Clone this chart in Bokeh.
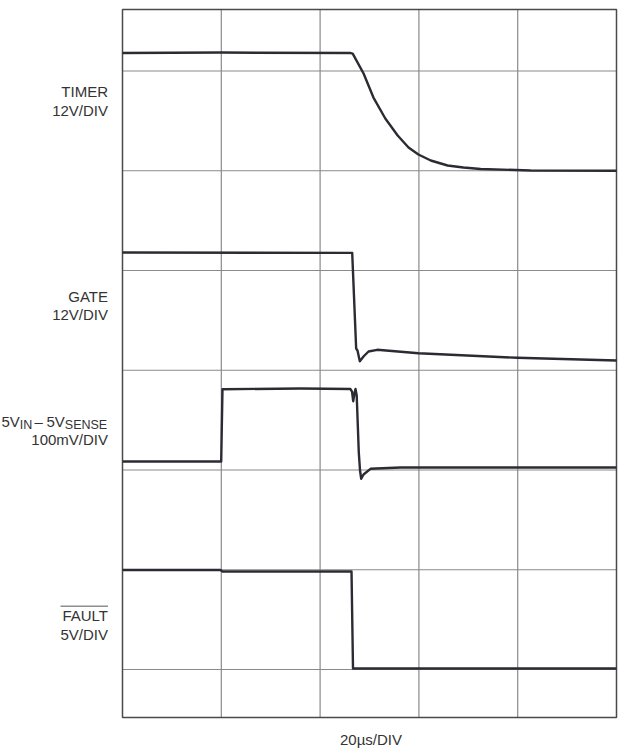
from bokeh.core.properties import value
from bokeh.embed import file_html
from bokeh.models import Range1d
from bokeh.plotting import figure
from bokeh.resources import INLINE

# time in us (20us/DIV), traces in screen divisions
timer_t = [0, 20, 46.2, 46.6, 48.8, 50.8, 53.2, 55.7, 57.9, 59.9, 62.4, 65.8, 69.0, 72.5, 82.6, 100]
timer_y = [6.18, 6.185, 6.18, 6.175, 5.975, 5.734, 5.524, 5.353, 5.233, 5.163, 5.103, 5.053, 5.033, 5.018, 5.003, 5.0]

gate_t = [0, 46.15, 46.5, 47.3, 47.57, 48.04, 48.79, 49.8, 51.56, 59.92, 79.9, 100]
gate_y = [4.18, 4.177, 4.175, 3.218, 3.198, 3.091, 3.138, 3.188, 3.205, 3.171, 3.125, 3.098]

sense_t = [0, 19.98, 20.24, 36.0, 46.15, 46.46, 46.7, 46.96, 47.17, 47.41, 47.67, 47.83, 48.08, 48.32, 48.79, 50.2, 56.3, 100]
sense_y = [2.085, 2.085, 2.81, 2.817, 2.812, 2.787, 2.69, 2.767, 2.812, 2.747, 2.396, 2.178, 1.995, 1.912, 1.955, 2.012, 2.025, 2.025]

fault_t = [0, 19.84, 20.24, 46.15, 46.36, 46.66, 100]
fault_y = [0.997, 0.997, 0.982, 0.982, 0.982, 0.01, 0.01]

x_grid = [20, 40, 60, 80]
y_grid = [0, 1, 2, 3, 4, 5, 6]

label_text = ["TIMER", "12V/DIV", "GATE", "12V/DIV", "100mV/DIV", "FAULT", "5V/DIV"]
label_y = [5.79, 5.605, 3.743, 3.555, 2.307, 0.542, 0.352]

# scope screen bounds
X0, X1 = 0, 100
Y0, Y1 = -0.481, 6.617
LABEL_X = -2.935
FONT = value("Liberation Sans")
TXT = "#333333"
TRACE = "#2b2b33"

p = figure(
    width=624, height=752,
    x_range=Range1d(-24.696, 101.619), y_range=Range1d(-0.832, 6.707),
    x_axis_location=None, y_axis_location=None,
    min_border=0, toolbar_location=None, tools="",
    output_backend="svg",
)
p.outline_line_color = None
p.grid.visible = False
p.background_fill_color = "white"
p.border_fill_color = "white"

# graticule
p.segment(x0=x_grid, y0=[Y0] * len(x_grid), x1=x_grid, y1=[Y1] * len(x_grid),
          line_color="#8a8a8a", line_width=1.2)
p.segment(x0=[X0] * len(y_grid), y0=y_grid, x1=[X1] * len(y_grid), y1=y_grid,
          line_color="#8a8a8a", line_width=1.2)
p.quad(left=[X0], right=[X1], bottom=[Y0], top=[Y1], fill_color=None,
       line_color="#4a4a4a", line_width=1.5)

for t, y in [(timer_t, timer_y), (gate_t, gate_y), (sense_t, sense_y), (fault_t, fault_y)]:
    p.line(t, y, line_color=TRACE, line_width=2.4, line_join="round")

p.text(x=[LABEL_X] * len(label_text), y=label_y, text=label_text,
       text_font=FONT, text_font_size="15px", text_color=TXT,
       text_align="right", text_baseline="alphabetic")

# 5V_IN - 5V_SENSE with subscripts
p.text(x=[-24.49, -17.81, -15.38], y=[2.487] * 3, text=["5V", "\u2013", "5V"],
       text_font=FONT, text_font_size="15px", text_color=TXT,
       text_align="left", text_baseline="alphabetic")
p.text(x=[-20.79, -11.68], y=[2.447] * 2, text=["IN", "SENSE"],
       text_font=FONT, text_font_size="12.5px", text_color=TXT,
       text_align="left", text_baseline="alphabetic")

# bar over FAULT
p.segment(x0=[-12.55], y0=[0.635], x1=[-2.94], y1=[0.635], line_color="#555555", line_width=1)

p.text(x=[50.3], y=[-0.697], text=["20\u00b5s/DIV"],
       text_font=FONT, text_font_size="15px", text_color=TXT,
       text_align="center", text_baseline="alphabetic")

open("out.html", "w").write(file_html(p, INLINE))
